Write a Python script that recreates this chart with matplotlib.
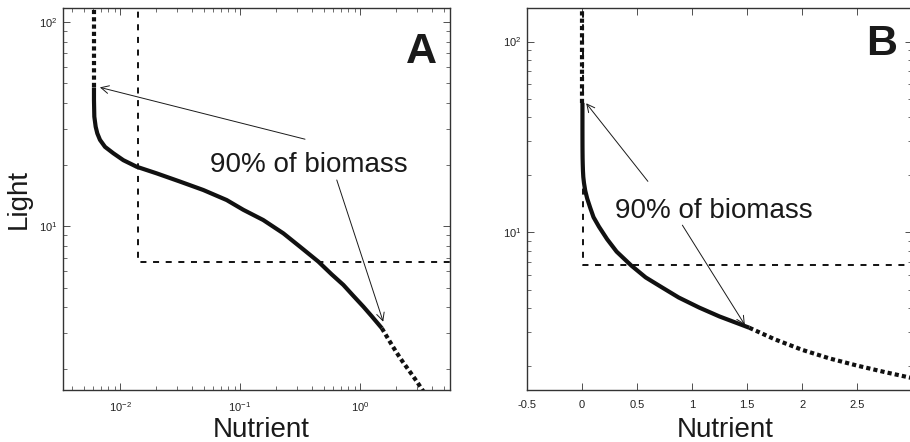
import matplotlib
matplotlib.use("Agg")
import matplotlib.pyplot as plt
from matplotlib.ticker import FixedLocator, FixedFormatter, NullFormatter, NullLocator

plt.rcParams['font.family'] = ['Liberation Sans', 'DejaVu Sans']
plt.rcParams['axes.unicode_minus'] = False
plt.rcParams['mathtext.fontset'] = 'custom'
plt.rcParams['mathtext.rm'] = 'Liberation Sans'
plt.rcParams['mathtext.it'] = 'Liberation Sans:italic'

# ---------------- data ----------------
# main (solid) part of the curve: 90% of biomass
nutrient_solid = [0.00607, 0.00607, 0.00611, 0.00627, 0.00647, 0.00681, 0.0075, 0.0088,
                  0.01066, 0.01377, 0.0202, 0.0316, 0.0495, 0.0774, 0.1066, 0.156,
                  0.23, 0.316, 0.45, 0.58, 0.726, 0.88, 1.066, 1.25, 1.52]
light_solid = [47.7, 41.4, 34.3, 30.6, 28.4, 26.4, 24.4, 22.7,
               21.0, 19.5, 18.1, 16.5, 15.0, 13.4, 12.0, 10.7,
               9.2, 7.92, 6.69, 5.8, 5.15, 4.55, 4.03, 3.62, 3.16]
# dotted tails
nutrient_upper = [0.00607, 0.00607]
light_upper = [47.7, 160.0]
nutrient_lower = [1.52, 1.75, 2.0, 2.25, 2.5, 2.75, 3.0, 3.5]
light_lower = [3.16, 2.75, 2.42, 2.18, 2.0, 1.85, 1.72, 1.5]
# dashed thresholds
threshold_nutrient = 0.014
threshold_light = 6.7

annotation_text = '90% of biomass'
panel_labels = ['A', 'B']

# annotation anchor points (nutrient, light)
text_pos_a = (0.0562, 18.4)
arrows_a = [((0.348, 26.6), (0.0068, 47.7)), ((0.64, 16.8), (1.56, 3.40))]
text_pos_b = (0.297, 11.9)
arrows_b = [((0.6, 18.5), (0.04, 47.5)), ((0.913, 10.9), (1.48, 3.27))]

xticks_b = [-0.5, 0, 0.5, 1, 1.5, 2, 2.5, 3]
xticklabels_b = ['-0.5', '0', '0.5', '1', '1.5', '2', '2.5', '']

xlim_a = (0.00335, 5.62)
ylim_a = (1.575, 116.7)
xlim_b = (-0.5, 3.0)
ylim_b = (1.49, 150.0)

# ---------------- figure ----------------
fig = plt.figure(figsize=(9.1, 4.42), dpi=100)
W, H = 910.0, 442.0
axA = fig.add_axes([63 / W, (H - 390) / H, (450 - 63) / W, (390 - 8) / H])
axB = fig.add_axes([526.7 / W, (H - 390) / H, (912.3 - 526.7) / W, (390 - 8) / H])

line_col = '#111111'


def draw(ax, xlim, ylim, text_pos, arrows, label, label_x, label_base):
    ax.set_yscale('log')
    ax.set_xlim(*xlim)
    ax.set_ylim(*ylim)
    # dashed threshold lines
    ax.plot([threshold_nutrient, threshold_nutrient, xlim[1] * 2],
            [ylim[1] * 2, threshold_light, threshold_light],
            color=line_col, lw=1.4, linestyle=(0, (3.1, 3.4)), zorder=2)
    # curve
    ax.plot(nutrient_solid, light_solid, color=line_col, lw=3.0,
            solid_capstyle='butt', solid_joinstyle='round', zorder=3)
    ax.plot(nutrient_upper, light_upper, color=line_col, lw=3.0,
            linestyle=(0, (1, 0.75)), zorder=3)
    ax.plot(nutrient_lower, light_lower, color=line_col, lw=3.0,
            linestyle=(0, (1, 0.75)), zorder=3)
    # annotation
    ax.text(text_pos[0], text_pos[1], annotation_text, fontsize=20,
            ha='left', va='baseline', color='#1a1a1a', zorder=5)
    for tail, tip in arrows:
        ax.annotate('', xy=tip, xytext=tail,
                    arrowprops=dict(arrowstyle='->', lw=0.7, color='#1a1a1a',
                                    shrinkA=0, shrinkB=0, mutation_scale=14))
    ax.text(label_x, label_base, label, transform=ax.transAxes, fontsize=31,
            fontweight='bold', ha='right', va='baseline', color='#1a1a1a')
    for s in ax.spines.values():
        s.set_linewidth(1.0)
        s.set_color('#333333')
    ax.tick_params(which='both', direction='in', top=True, right=True,
                   labelsize=8, colors='#333333', labelcolor='#222222')
    ax.tick_params(which='major', length=5, width=0.6)
    ax.tick_params(which='minor', length=3, width=0.5)
    ax.tick_params(axis='x', pad=7)
    ax.tick_params(axis='y', pad=4)
    ax.yaxis.set_minor_formatter(NullFormatter())


draw(axA, xlim_a, ylim_a, text_pos_a, arrows_a, panel_labels[0], 0.966, 0.856)
axA.set_xscale('log')
axA.set_xlim(*xlim_a)
axA.xaxis.set_minor_formatter(NullFormatter())

draw(axB, xlim_b, ylim_b, text_pos_b, arrows_b, panel_labels[1], 0.9595, 0.877)
axB.xaxis.set_major_locator(FixedLocator(xticks_b))
axB.xaxis.set_major_formatter(FixedFormatter(xticklabels_b))
axB.xaxis.set_minor_locator(NullLocator())

# axis labels
axA.set_xlabel('Nutrient', fontsize=20, va='baseline', color='#1a1a1a')
axA.xaxis.set_label_coords((261 - 63) / 387, (390 - 436.7) / 382)
axB.set_xlabel('Nutrient', fontsize=20, va='baseline', color='#1a1a1a')
axB.xaxis.set_label_coords((725 - 526.7) / 385.6, (390 - 436.7) / 382)
axA.set_ylabel('Light', fontsize=20, color='#1a1a1a')
axA.yaxis.set_label_coords((31.7 - 63) / 387, 0.5)

fig.savefig('out.png', dpi=100)
